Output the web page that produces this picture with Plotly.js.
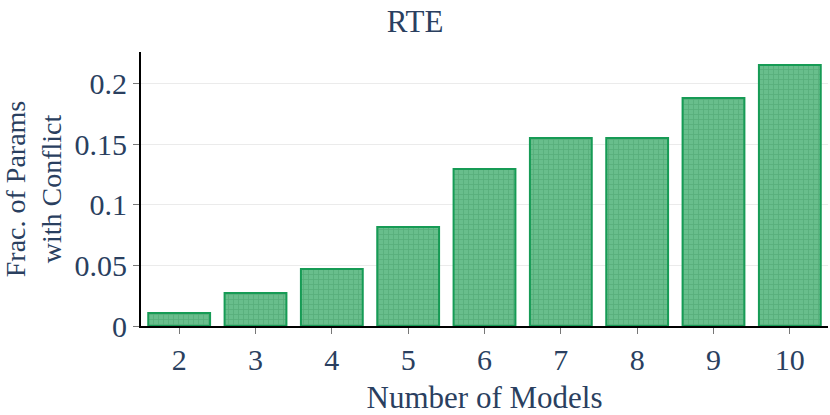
<!DOCTYPE html>
<html>
<head>
<meta charset="utf-8">
<script src="https://cdn.plot.ly/plotly-3.0.1.min.js"></script>
<style>
  html, body { margin: 0; padding: 0; background: #fff; }
  #chart { width: 830px; height: 415px; }
</style>
</head>
<body>
<div id="chart"></div>
<script>
// number of merged models and the share of params in conflict
let numModels = ['2', '3', '4', '5', '6', '7', '8', '9', '10'];
let conflictFrac = [0.0107, 0.0273, 0.047, 0.0818, 0.1298, 0.1554, 0.1554, 0.1884, 0.2157];

let trace = {
  x: numModels,
  y: conflictFrac,
  type: 'bar',
  marker: {
    color: 'rgb(104,190,140)',
    line: {color: 'rgb(22,155,85)', width: 2},
    pattern: {shape: '+', size: 5, solidity: 0.3, fgcolor: 'rgb(60,150,98)', fgopacity: 0.4, fillmode: 'overlay'}
  },
  hoverinfo: 'none'
};

let fontFamily = '"Liberation Serif", "Times New Roman", serif';

let layout = {
  width: 830,
  height: 415,
  margin: {l: 141, r: 2, t: 52, b: 89},
  paper_bgcolor: 'white',
  plot_bgcolor: 'white',
  font: {family: fontFamily, color: '#2a3f5f', size: 28},
  title: {text: 'RTE', x: 0.5, xanchor: 'center', y: 0.975, yanchor: 'top', font: {size: 31}},
  showlegend: false,
  bargap: 0.19,
  xaxis: {
    type: 'category',
    title: {text: 'Number of Models', font: {size: 31}, standoff: 11},
    showline: true, linecolor: 'black', linewidth: 2,
    ticks: 'outside', ticklen: 6, tickcolor: '#777', tickwidth: 1,
    tickfont: {size: 30},
    showgrid: false
  },
  yaxis: {
    title: {text: 'Frac. of Params<br>with Conflict', font: {size: 28}, standoff: 8},
    range: [0, 0.2264],
    tickvals: [0, 0.05, 0.1, 0.15, 0.2],
    ticktext: ['0', '0.05', '0.1', '0.15', '0.2'],
    showline: true, linecolor: 'black', linewidth: 2,
    ticks: 'outside', ticklen: 6, tickcolor: '#777', tickwidth: 1,
    tickfont: {size: 30},
    showgrid: true, gridcolor: '#ebebeb', gridwidth: 1,
    zeroline: false
  }
};

Plotly.newPlot('chart', [trace], layout, {displayModeBar: false, staticPlot: true});
</script>
</body>
</html>
